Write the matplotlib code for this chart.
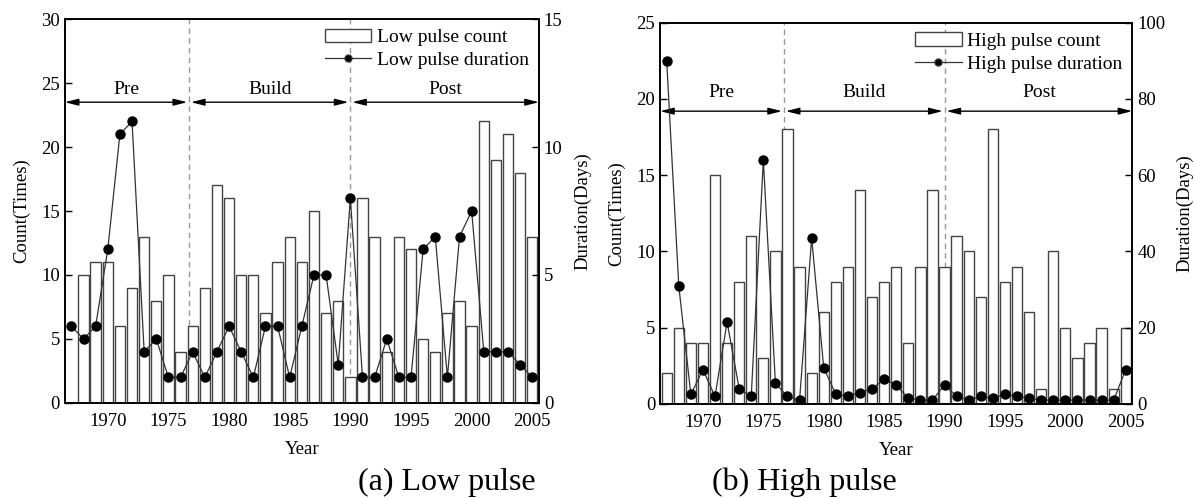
import matplotlib
matplotlib.use("Agg")
import matplotlib.pyplot as plt
from matplotlib.patches import Patch
from matplotlib.lines import Line2D

plt.rcParams['font.family'] = ['Liberation Serif', 'DejaVu Serif']
plt.rcParams['font.size'] = 13.5

years = list(range(1967, 2006))

# low pulse: number of events per year and mean duration (days)
low_count = [0, 10, 11, 11, 6, 9, 13, 8, 10, 4,
             6, 9, 17, 16, 10, 10, 7, 11, 13, 11,
             15, 7, 8, 2, 16, 13, 4, 13, 12, 5,
             4, 7, 8, 6, 22, 19, 21, 18, 13]
low_duration = [3, 2.5, 3, 6, 10.5, 11, 2, 2.5, 1, 1,
                2, 1, 2, 3, 2, 1, 3, 3, 1, 3,
                5, 5, 1.5, 8, 1, 1, 2.5, 1, 1, 6,
                6.5, 1, 6.5, 7.5, 2, 2, 2, 1.5, 1]

# high pulse
high_count = [2, 5, 4, 4, 15, 4, 8, 11, 3, 10,
              18, 9, 2, 6, 8, 9, 14, 7, 8, 9,
              4, 9, 14, 9, 11, 10, 7, 18, 8, 9,
              6, 1, 10, 5, 3, 4, 5, 1, 5]
high_duration = [90, 31, 2.5, 9, 2, 21.5, 4, 2, 64, 5.4,
                 2, 1, 43.5, 9.5, 2.5, 2, 3, 4, 6.5, 5,
                 1.5, 1, 1, 5, 2, 1, 2, 1.5, 2.5, 2,
                 1.5, 1, 1, 1, 1, 1, 1, 1, 9]

periods = ['Pre', 'Build', 'Post']
period_breaks = [1976.7, 1990]

fig = plt.figure(figsize=(11.94, 4.98), dpi=100)


def pulse_panel(rect, counts, durations, cmax, dmax, arrow_y, label_y, name):
    ax = fig.add_axes(rect)
    ax2 = ax.twinx()
    ax.bar(years, counts, width=0.85, facecolor='white', edgecolor='#444444',
           linewidth=1.0, zorder=2)
    ax2.plot(years, durations, color='#333333', linewidth=0.9, marker='o',
             markersize=6.5, markerfacecolor='black', markeredgecolor='black')
    ax.set_xlim(1966.45, 2005.55)
    ax.set_ylim(0, cmax)
    ax2.set_ylim(0, dmax)
    ax.set_xticks(range(1970, 2006, 5))
    ax.set_yticks(range(0, cmax + 1, 5))
    ax2.set_yticks(range(0, dmax + 1, dmax // 5 if dmax > 50 else 5))
    ax.tick_params(direction='in', length=5, width=1)
    ax.tick_params(axis='x', pad=7)
    ax2.tick_params(direction='in', length=5, width=1)
    for a in (ax, ax2):
        for s in a.spines.values():
            s.set_linewidth(1.2)
    ax.set_ylabel('Count(Times)', labelpad=8)
    ax2.set_ylabel('Duration(Days)', labelpad=8)
    ax.set_xlabel('Year', labelpad=8)

    # period separators
    for xb in period_breaks:
        ax.axvline(xb, color='#999999', linestyle=(0, (4, 3)), linewidth=1.0, zorder=1)

    # period arrows
    x0, x1 = ax.get_xlim()
    spans = [(x0, period_breaks[0] - 0.15),
             (period_breaks[0] + 0.15, period_breaks[1] - 0.15),
             (period_breaks[1] + 0.15, x1)]
    for (a, b), txt in zip(spans, periods):
        ax.annotate('', xy=(b, arrow_y), xytext=(a, arrow_y),
                    arrowprops=dict(arrowstyle='<|-|>,head_length=0.6,head_width=0.15',
                                    color='black', lw=1.0, shrinkA=0, shrinkB=0),
                    zorder=5)
        ax.text((a + b) / 2, label_y, txt, ha='center', va='center', fontsize=14)

    handles = [Patch(facecolor='white', edgecolor='#444444', linewidth=1.0),
               Line2D([], [], color='#333333', linewidth=0.9, marker='o',
                      markersize=5, markerfacecolor='black')]
    ax2.legend(handles, [name + ' pulse count', name + ' pulse duration'],
               loc='upper right', frameon=False, fontsize=14,
               handlelength=2.4, handletextpad=0.3, borderaxespad=0.1,
               labelspacing=0.25)
    return ax, ax2


pulse_panel([0.0542, 0.1908, 0.3972, 0.771], low_count, low_duration,
            30, 15, 23.5, 24.5, 'Low')
pulse_panel([0.5528, 0.1888, 0.3956, 0.7656], high_count, high_duration,
            25, 100, 19.2, 20.4, 'High')

fig.text(0.374, 0.032, '(a) Low pulse', ha='center', va='center', fontsize=23)
fig.text(0.674, 0.032, '(b) High pulse', ha='center', va='center', fontsize=23)

fig.savefig('out.png', dpi=100)
